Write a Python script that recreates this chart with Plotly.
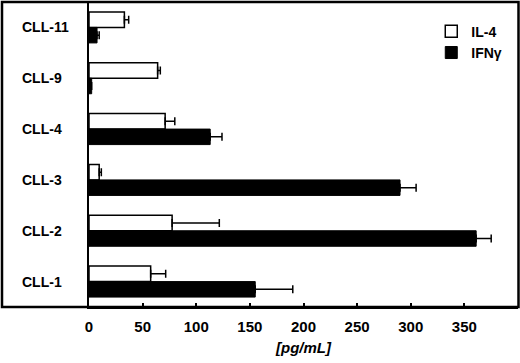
import plotly.graph_objects as go

categories = ["CLL-11", "CLL-9", "CLL-4", "CLL-3", "CLL-2", "CLL-1"]
il4 = [33, 64, 71, 9.5, 77.5, 57.5]
il4_err = [4, 2.5, 9, 2, 44, 14]
ifng = [7.5, 2.5, 113, 290, 361, 155]
ifng_err = [2, 0, 11, 15, 14, 35]
x_ticks = [0, 50, 100, 150, 200, 250, 300, 350]

FONT = "Liberation Sans, Arial, sans-serif"

fig = go.Figure()
fig.add_trace(go.Bar(
    name="IL-4", y=categories, x=il4, orientation="h",
    marker=dict(color="white", line=dict(color="black", width=1.5)),
    error_x=dict(type="data", array=il4_err, symmetric=False, arrayminus=[0]*6,
                 color="black", thickness=1.5, width=4),
))
fig.add_trace(go.Bar(
    name="IFN\u03b3", y=categories, x=ifng, orientation="h",
    marker=dict(color="black", line=dict(color="black", width=1)),
    error_x=dict(type="data", array=ifng_err, symmetric=False, arrayminus=[0]*6,
                 color="black", thickness=1.5, width=4),
))

for c in categories:
    fig.add_annotation(x=-0.16, xref="paper", y=c, yref="y", text="<b>%s</b>" % c,
                       showarrow=False, xanchor="left",
                       font=dict(family=FONT, size=14, color="black"))

# outer frame including the label panel
W = 520 - 89 - 2
fig.add_shape(type="rect", xref="paper", yref="paper",
              x0=(2 - 89) / W, x1=(518.5 - 89) / W, y0=0, y1=1,
              line=dict(color="black", width=2.5), layer="above")

fig.update_layout(
    width=520, height=363,
    margin=dict(l=89, r=2, t=2, b=56),
    paper_bgcolor="white", plot_bgcolor="white",
    barmode="group", bargap=0.39, bargroupgap=0,
    font=dict(family=FONT, size=14, color="black"),
    showlegend=True,
    legend=dict(x=0.975, y=0.955, xanchor="right", yanchor="top",
                font=dict(family=FONT, size=14, color="black", weight="bold"),
                bgcolor="rgba(0,0,0,0)", itemwidth=30, tracegroupgap=4),
    xaxis=dict(range=[0, 400], tickvals=x_ticks, ticks="inside", ticklen=4,
               tickwidth=1.5, tickcolor="black", showgrid=False, zeroline=False,
               showline=True, linecolor="black", linewidth=2, mirror=False,
               tickfont=dict(family=FONT, size=15, color="black", weight="bold"),
               ticklabelstandoff=5,
               title=dict(text="<b><i>[pg/mL]</i></b>", standoff=8,
                          font=dict(family=FONT, size=15, color="black"))),
    yaxis=dict(autorange="reversed", showticklabels=False, ticks="",
               showgrid=False, zeroline=False, showline=True, linecolor="black",
               linewidth=2),
)

fig.write_html("out.html", config={"displayModeBar": False},
               post_script="document.body.style.margin='0';document.body.style.overflow='hidden';")
